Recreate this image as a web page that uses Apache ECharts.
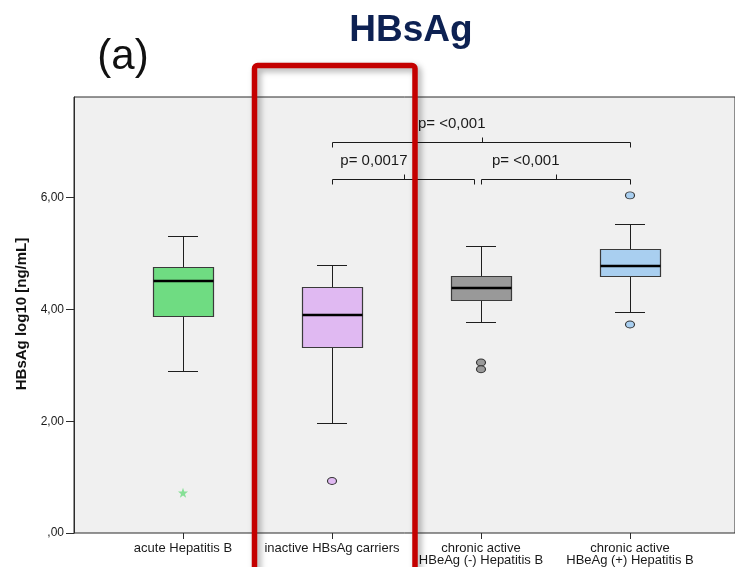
<!DOCTYPE html>
<html>
<head>
<meta charset="utf-8">
<script src="https://cdn.jsdelivr.net/npm/echarts@6/dist/echarts.min.js"></script>
<style>
  html, body { margin: 0; padding: 0; background: #ffffff; }
  #chart { width: 735px; height: 567px; }
</style>
</head>
<body>
<div id="chart"></div>
<script>
// Patient groups along the x axis
const categories = [
  'acute Hepatitis B',
  'inactive HBsAg carriers',
  'chronic active\nHBeAg (-) Hepatitis B',
  'chronic active\nHBeAg (+) Hepatitis B'
];
// Five-number summary per group: [lower whisker, Q1, median, Q3, upper whisker]
const boxStats = [
  [2.89, 3.89, 4.51, 4.76, 5.32],
  [1.96, 3.33, 3.90, 4.40, 4.80],
  [3.77, 4.16, 4.39, 4.60, 5.14],
  [3.95, 4.59, 4.77, 5.08, 5.53]
];
// Outliers (circles) and extreme values (stars) per group
const outliers = [[], [0.93], [3.05, 2.93], [6.04, 3.73]];
const extremes = [[0.72], [], [], []];
// Pairwise comparisons: [from group, to group, bracket height, p-value text]
const comparisons = [
  [1, 3, 7.0, 'p= <0,001'],
  [1, 2, 6.34, 'p= 0,0017'],
  [2, 3, 6.34, 'p= <0,001']
];
// Value axis ticks
const yTicks = [0, 2, 4, 6];
const yTickLabels = [',00', '2,00', '4,00', '6,00'];

const groupColors = ['#6fdc82', '#e0b9f2', '#999999', '#a9cff0'];
const FONT = '"Liberation Sans", Arial, sans-serif';
const Y_MAX = 7.8;

const chart = echarts.init(document.getElementById('chart'), null, { renderer: 'canvas' });

const outlierPoints = [];
outliers.forEach((vals, i) => vals.forEach(v => outlierPoints.push([i, v])));
const extremePoints = [];
extremes.forEach((vals, i) => vals.forEach(v => extremePoints.push([i, v])));

function crisp(v) { return Math.round(v) + 0.5; }

function renderBox(params, api) {
  const i = api.value(0);
  const band = api.size([1, 0])[0];
  const halfBox = band * 0.2;
  const halfCap = halfBox / 2;
  const x = api.coord([i, 0])[0];
  const yLow = crisp(api.coord([i, api.value(1)])[1]);
  const yQ1 = crisp(api.coord([i, api.value(2)])[1]);
  const yMed = api.coord([i, api.value(3)])[1];
  const yQ3 = crisp(api.coord([i, api.value(4)])[1]);
  const yHigh = crisp(api.coord([i, api.value(5)])[1]);
  const cx = crisp(x);
  const l = Math.round(x - halfBox) + 0.5;
  const r = Math.round(x + halfBox) + 0.5;
  const lineStyle = { stroke: '#1e1e1e', lineWidth: 1, fill: null };
  return {
    type: 'group',
    children: [
      { type: 'line', shape: { x1: cx, y1: yLow, x2: cx, y2: yHigh }, style: lineStyle },
      { type: 'line', shape: { x1: Math.round(x - halfCap), y1: yLow, x2: Math.round(x + halfCap), y2: yLow }, style: lineStyle },
      { type: 'line', shape: { x1: Math.round(x - halfCap), y1: yHigh, x2: Math.round(x + halfCap), y2: yHigh }, style: lineStyle },
      { type: 'rect', shape: { x: l, y: yQ3, width: r - l, height: yQ1 - yQ3 },
        style: { fill: groupColors[params.dataIndex], stroke: '#3a3a3a', lineWidth: 1.2 } },
      { type: 'line', shape: { x1: l, y1: Math.round(yMed), x2: r, y2: Math.round(yMed) },
        style: { stroke: '#000000', lineWidth: 2.5 } }
    ]
  };
}

function renderBracket(params, api) {
  const cmp = comparisons[params.dataIndex];
  const a = api.value(0), b = api.value(1), lvl = api.value(2);
  const p1 = api.coord([a, lvl]);
  const p2 = api.coord([b, lvl]);
  let x1 = Math.round(p1[0]) + 0.5;
  let x2 = Math.round(p2[0]) + 0.5;
  // a bracket that ends where a sibling at the same height starts stops short of it
  if (comparisons.some(c => c !== cmp && c[2] === lvl && c[0] === b)) x2 -= 7;
  const y = crisp(p1[1]);
  const mx = Math.round((x1 + x2) / 2) + 0.5;
  const st = { stroke: '#1a1a1a', lineWidth: 1, fill: null };
  return {
    type: 'group',
    children: [
      { type: 'polyline', shape: { points: [[x1, y + 5], [x1, y], [x2, y], [x2, y + 5]] }, style: st },
      { type: 'line', shape: { x1: mx, y1: y, x2: mx, y2: y - 5 }, style: st },
      { type: 'text', style: { text: cmp[3], x: mx + 3, y: y - 11, align: 'right', verticalAlign: 'bottom',
          font: '15px ' + FONT, fill: '#1a1a1a' } }
    ]
  };
}

const starPath = 'path://M0,-10L2.35,-3.24L9.51,-3.09L3.8,1.24L5.88,8.09L0,4L-5.88,8.09L-3.8,1.24L-9.51,-3.09L-2.35,-3.24Z';

const option = {
  animation: false,
  backgroundColor: '#ffffff',
  grid: [
    { left: 74, top: 97, width: 665, height: 436, show: true, backgroundColor: '#f0f0f0',
      borderColor: '#2b2b2b', borderWidth: 1 },
    { left: 108.5, top: 97, width: 596, height: 436 }
  ],
  xAxis: [
    { gridIndex: 0, type: 'value', min: 0, max: 1, show: false },
    { gridIndex: 1, type: 'category', data: categories,
      axisLine: { show: false },
      axisTick: { show: true, alignWithLabel: true, length: 6, lineStyle: { color: '#2b2b2b' } },
      axisLabel: { color: '#1a1a1a', fontSize: 13, fontFamily: FONT, margin: 9, lineHeight: 12, interval: 0 },
      splitLine: { show: false } }
  ],
  yAxis: [
    { gridIndex: 0, type: 'value', min: 0, max: Y_MAX,
      axisLine: { show: true, lineStyle: { color: '#2b2b2b' } },
      axisTick: { show: true, length: 8, customValues: yTicks, lineStyle: { color: '#2b2b2b' } },
      axisLabel: { customValues: yTicks, margin: 10, color: '#1a1a1a', fontSize: 12, fontFamily: FONT,
        formatter: v => yTickLabels[yTicks.indexOf(v)] },
      splitLine: { show: false } },
    { gridIndex: 1, type: 'value', min: 0, max: Y_MAX, show: false }
  ],
  series: [
    { type: 'custom', xAxisIndex: 1, yAxisIndex: 1,
      data: boxStats.map((s, i) => [i].concat(s)),
      encode: { x: 0, y: [1, 2, 3, 4, 5] },
      renderItem: renderBox, z: 2 },
    { type: 'scatter', xAxisIndex: 1, yAxisIndex: 1, data: outlierPoints,
      symbol: 'circle', symbolSize: [9, 7],
      itemStyle: { color: p => groupColors[p.data[0]], borderColor: '#333333', borderWidth: 1, opacity: 1 },
      z: 3 },
    { type: 'scatter', xAxisIndex: 1, yAxisIndex: 1, data: extremePoints,
      symbol: starPath, symbolSize: 10,
      itemStyle: { color: '#86e096', opacity: 1 }, z: 3 },
    { type: 'custom', xAxisIndex: 1, yAxisIndex: 1,
      data: comparisons.map(c => [c[0], c[1], c[2]]),
      encode: { x: [0, 1], y: 2 },
      renderItem: renderBracket, z: 4 }
  ]
};

chart.setOption(option);

// Highlight frame around the inactive-carrier group, title and axis name
const hx = chart.convertToPixel({ xAxisIndex: 1 }, 1);
chart.setOption({
  graphic: [
    { type: 'text', x: 411, y: 31, z: 10,
      style: { text: 'HBsAg', align: 'center', verticalAlign: 'middle',
        font: 'bold 37px ' + FONT, fill: '#0d2152' } },
    { type: 'text', x: 123, y: 57, z: 10,
      style: { text: '(a)', align: 'center', verticalAlign: 'middle',
        font: '42px ' + FONT, fill: '#111111' } },
    { type: 'text', x: 22, y: 314, rotation: Math.PI / 2, z: 10,
      style: { text: 'HBsAg log10 [ng/mL]', align: 'center', verticalAlign: 'middle',
        font: 'bold 15px ' + FONT, fill: '#111111' } },
    { type: 'rect', z: 20,
      shape: { x: hx - 77.5, y: 65.5, width: 160.5, height: 560, r: 3 },
      style: { fill: null, stroke: '#c40000', lineWidth: 5.5,
        shadowBlur: 6, shadowColor: 'rgba(0,0,0,0.35)', shadowOffsetX: 3, shadowOffsetY: 3 } }
  ]
});
</script>
</body>
</html>
